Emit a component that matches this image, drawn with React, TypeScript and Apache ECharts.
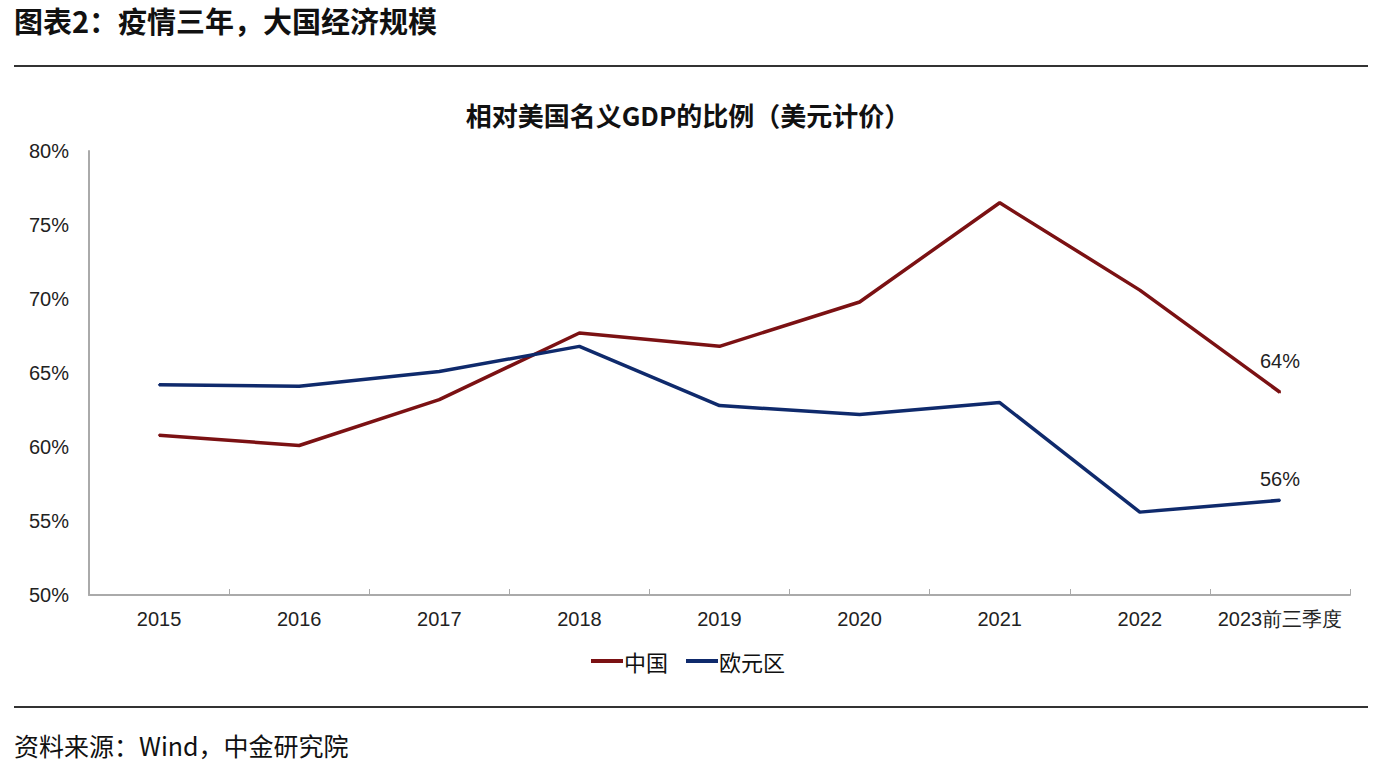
import React, { useEffect, useRef } from "react";
import * as echarts from "echarts";

const categories = ["2015", "2016", "2017", "2018", "2019", "2020", "2021", "2022", "2023前三季度"];
const chinaValues = [60.8, 60.1, 63.2, 67.7, 66.8, 69.8, 76.5, 70.6, 63.7];
const euroValues = [64.2, 64.1, 65.1, 66.8, 62.8, 62.2, 63.0, 55.6, 56.4];
const yTicks = { min: 50, max: 80, interval: 5 };

const CN_FONT = "'Noto Sans CJK SC', 'Noto Sans', sans-serif";
const AX_FONT = "'Liberation Sans', Arial, sans-serif";

function lastLabel(values: number[], dist: number) {
  return values.map((v, i) =>
    i === values.length - 1
      ? {
          value: v,
          label: {
            show: true,
            position: "top",
            distance: dist,
            formatter: Math.round(v) + "%",
            fontFamily: AX_FONT,
            fontSize: 20,
            color: "#222",
          },
        }
      : v
  );
}

export default function App() {
  const ref = useRef<HTMLDivElement>(null);
  useEffect(() => {
    document.body.style.margin = "0";
    const chart = echarts.init(ref.current!, null, { renderer: "svg" });
    chart.setOption({
      animation: false,
      backgroundColor: "#fff",
      title: {
        text: "相对美国名义GDP的比例（美元计价）",
        left: "center",
        top: 96,
        textStyle: { fontFamily: CN_FONT, fontWeight: "bold", fontSize: 26, color: "#111" },
      },
      graphic: [
        {
          type: "text",
          left: 14,
          top: 5,
          style: { text: "图表2：疫情三年，大国经济规模", fontFamily: CN_FONT, fontWeight: "bold", fontSize: 29, fill: "#111" },
        },
        { type: "line", shape: { x1: 14, y1: 66, x2: 1368, y2: 66 }, style: { stroke: "#333", lineWidth: 2 } },
        { type: "line", shape: { x1: 14, y1: 707, x2: 1368, y2: 707 }, style: { stroke: "#333", lineWidth: 2 } },
        {
          type: "text",
          left: 14,
          top: 732,
          style: { text: "资料来源：Wind，中金研究院", fontFamily: CN_FONT, fontSize: 25, fill: "#111" },
        },
      ],
      legend: {
        bottom: 107,
        left: "center",
        itemWidth: 32,
        itemHeight: 4,
        itemGap: 18,
        icon: "rect",
        textStyle: { fontFamily: CN_FONT, fontSize: 22, color: "#111", padding: [0, 0, 0, -4] },
        data: ["中国", "欧元区"],
      },
      grid: { left: 89, right: 26, top: 151, bottom: 189 },
      xAxis: {
        type: "category",
        data: categories,
        boundaryGap: true,
        axisLine: { lineStyle: { color: "#aaa", width: 2 } },
        axisTick: { show: true, inside: true, length: 6, interval: 0, lineStyle: { color: "#aaa" } },
        axisLabel: { interval: 0, fontFamily: AX_FONT, fontSize: 20, color: "#222", margin: 14 },
      },
      yAxis: {
        type: "value",
        min: yTicks.min,
        max: yTicks.max,
        interval: yTicks.interval,
        splitLine: { show: false },
        axisLine: { show: true, lineStyle: { color: "#aaa", width: 2 } },
        axisTick: { show: false },
        axisLabel: { fontFamily: AX_FONT, fontSize: 20, color: "#222", margin: 20, formatter: "{value}%" },
      },
      series: [
        {
          name: "中国",
          type: "line",
          data: lastLabel(chinaValues, 20),
          symbol: "circle",
          symbolSize: 2,
          showSymbol: true,
          lineStyle: { color: "#7B1113", width: 3.5 },
          itemStyle: { color: "#7B1113" },
        },
        {
          name: "欧元区",
          type: "line",
          data: lastLabel(euroValues, 10),
          symbol: "circle",
          symbolSize: 2,
          showSymbol: true,
          lineStyle: { color: "#0F2A6C", width: 3.5 },
          itemStyle: { color: "#0F2A6C" },
        },
      ],
    });
    return () => chart.dispose();
  }, []);
  return <div ref={ref} style={{ width: 1376, height: 784 }} />;
}
